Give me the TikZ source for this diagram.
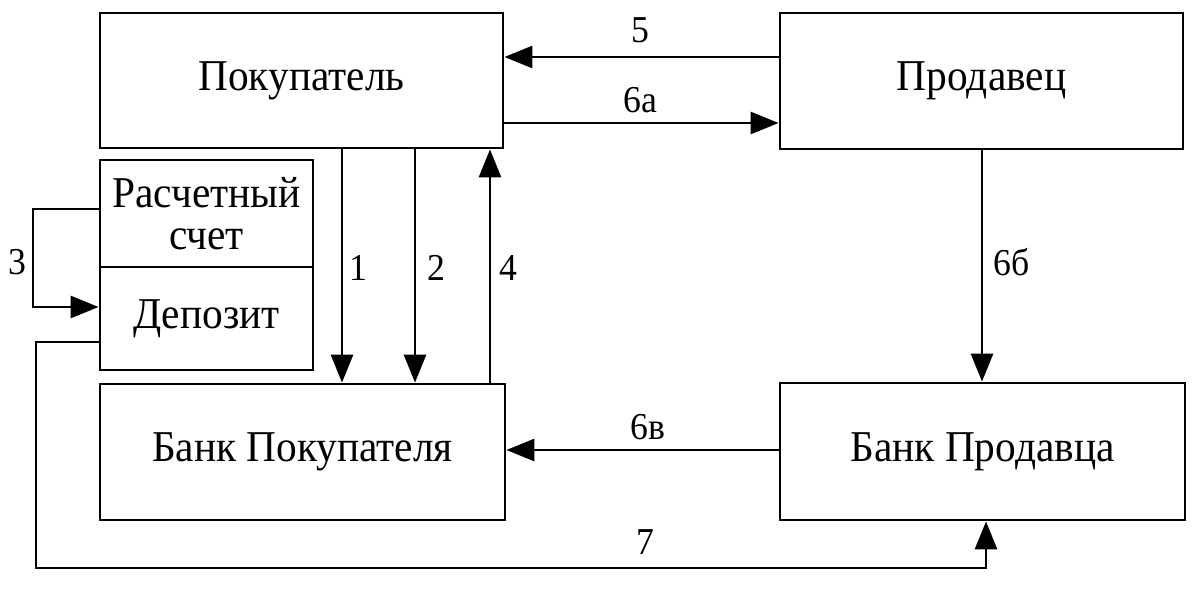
\documentclass[tikz,border=0pt]{standalone}
\usepackage{fontspec}
\setmainfont{Liberation Serif}[FakeStretch=0.94]
\usetikzlibrary{arrows.meta}
\begin{document}
\begin{tikzpicture}[x=1pt,y=-1pt,
  box/.style={draw,line width=2.8pt,rectangle,inner sep=0pt,font=\fontsize{44}{42}\selectfont,align=center},
  conn/.style={line width=2.8pt},
  arr/.style={conn,-{Triangle[length=28pt,width=22pt]}},
  lbl/.style={font=\fontsize{38}{38}\selectfont,inner sep=0pt}]
\useasboundingbox (0,0) rectangle (1200,589);
\node[box,minimum width=403pt,minimum height=135pt] (buyer) at (301.5,80.5) {Покупатель};
\node[box,minimum width=403pt,minimum height=136pt] (seller) at (981.5,81) {Продавец};
\node[box,minimum width=213pt,minimum height=107pt] (acc) at (206.5,213.5) {Расчетный\\счет};
\node[box,minimum width=213pt,minimum height=103pt] (dep) at (206.5,318.5) {Депозит};
\node[box,minimum width=405pt,minimum height=136pt] (bankB) at (302.5,452) {Банк Покупателя};
\node[box,minimum width=405pt,minimum height=137pt] (bankS) at (982.5,451.5) {Банк Продавца};
% connectors
\draw[arr] (seller.west |- 0,57) -- (buyer.east |- 0,57);
\draw[arr] (buyer.east |- 0,123) -- (seller.west |- 0,123);
\draw[arr] (buyer.south -| 342,0) -- (bankB.north -| 342,0);
\draw[arr] (buyer.south -| 415,0) -- (bankB.north -| 415,0);
\draw[arr] (bankB.north -| 490,0) -- (buyer.south -| 490,0);
\draw[arr] (acc.west |- 0,209) -| (33,307) -- (dep.west |- 0,307);
\draw[arr] (dep.west |- 0,342) -| (36,568) -| (bankS.south -| 986,0);
\draw[arr] (seller.south -| 982,0) -- (bankS.north -| 982,0);
\draw[arr] (bankS.west |- 0,450) -- (bankB.east |- 0,450);
% labels
\node[lbl] (l5) at (640,30) {5};
\node[lbl] (l6a) at (640,100) {6а};
\node[lbl] (l1) at (358,268) {1};
\node[lbl] (l2) at (436,268) {2};
\node[lbl] (l4) at (508,268) {4};
\node[lbl] (l3) at (17,262) {3};
\node[lbl] (l6b) at (1012,262) {6б};
\node[lbl] (l6v) at (648,427) {6в};
\node[lbl] (l7) at (645,542) {7};
\end{tikzpicture}
\end{document}
